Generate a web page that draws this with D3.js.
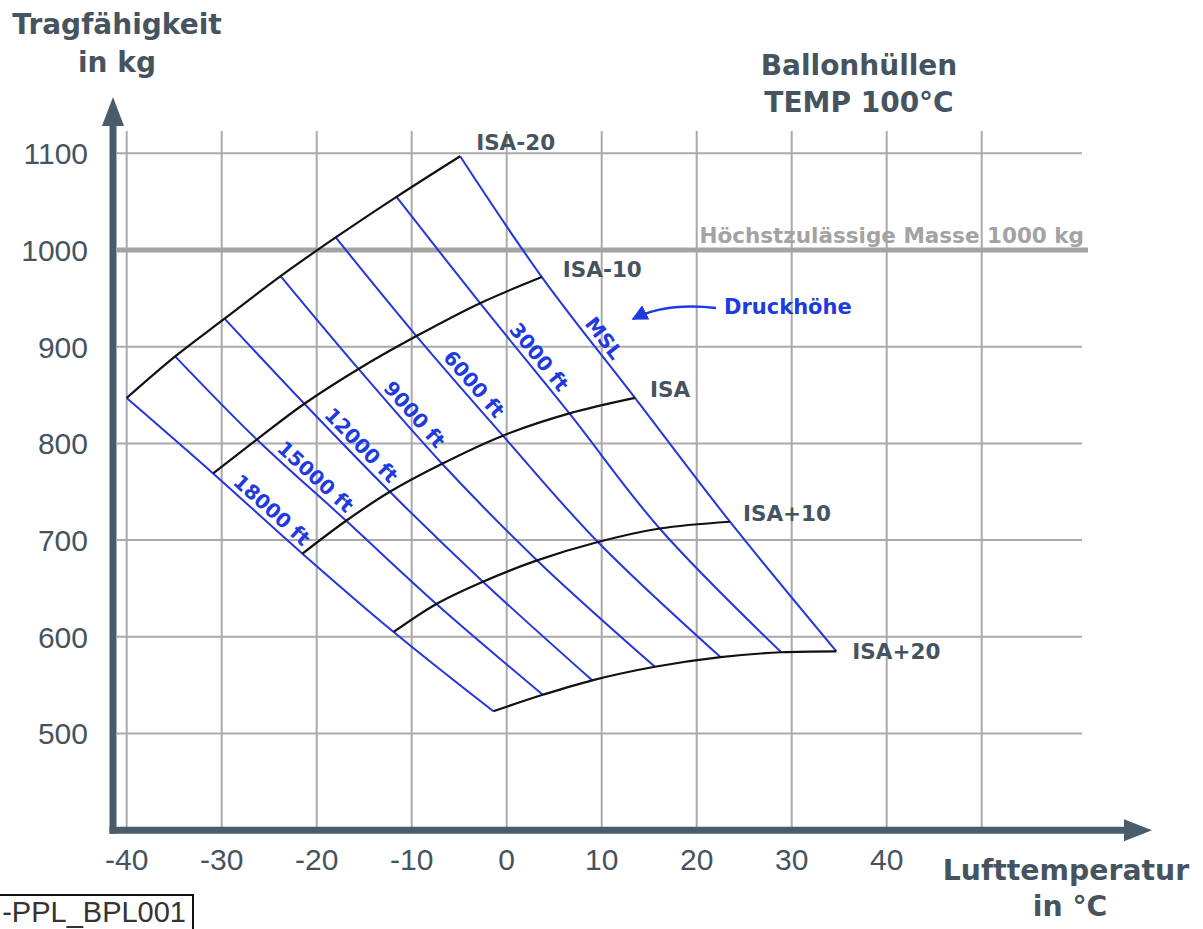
<!DOCTYPE html>
<html>
<head>
<meta charset="utf-8">
<script src="https://cdn.jsdelivr.net/npm/d3@7"></script>
<style>
  html, body { margin: 0; padding: 0; background: #ffffff; overflow: hidden; }
  svg { display: block; }
</style>
</head>
<body>
<svg id="chart" width="1203" height="929"></svg>
<script>
// ---------------- DATA ----------------
const xTicks = [-40, -30, -20, -10, 0, 10, 20, 30, 40];
const xGrid = [-40, -30, -20, -10, 0, 10, 20, 30, 40, 50];
const yTicks = [500, 600, 700, 800, 900, 1000, 1100];
const maxMass = 1000;

const deviations = ["ISA-20", "ISA-10", "ISA", "ISA+10", "ISA+20"];
const altitudes = ["MSL", "3000 ft", "6000 ft", "9000 ft", "12000 ft", "15000 ft", "18000 ft"];

// air temperature (°C) and lift (kg) for each deviation, listed by altitude (MSL ... 18000 ft)
const tempISAm20 = [-4.9, -11.6, -18.0, -23.8, -29.7, -34.9, -40.0];
const massISAm20 = [1097, 1055, 1013, 973, 929, 890, 847];
const tempISAm10 = [3.7, -2.8, -9.5, -15.6, -21.3, -26.3, -30.9];
const massISAm10 = [972, 945, 911, 877, 841, 804, 769];
const tempISA    = [13.5, 6.6, -0.4, -6.8, -12.3, -16.9, -21.5];
const massISA    = [847, 831, 808, 779, 750, 720, 686];
const tempISAp10 = [23.5, 16.1, 9.6, 3.2, -2.5, -7.4, -11.9];
const massISAp10 = [719, 712, 698, 679, 657, 634, 605];
const tempISAp20 = [34.7, 28.9, 22.5, 15.6, 9.0, 3.8, -1.4];
const massISAp20 = [585, 584, 579, 569, 555, 540, 523];

const temps = [tempISAm20, tempISAm10, tempISA, tempISAp10, tempISAp20];
const masses = [massISAm20, massISAm10, massISA, massISAp10, massISAp20];

// ---------------- LAYOUT ----------------
const svg = d3.select("#chart");
const x = d3.scaleLinear().domain([-40, 50]).range([126.7, 981.7]);
const y = d3.scaleLinear().domain([400, 1100]).range([830.2, 153.3]);

const axisColor = "#4a5c6a";
const textColor = "#46545f";
const gridColor = "#aaaaaa";
const blue = "#2536de";
const labelBlue = "#1d3be0";
const boldFont = "'DejaVu Sans', Verdana, sans-serif";
const tickFont = "'Liberation Sans', Arial, sans-serif";

// grid
const g = svg.append("g");
g.selectAll("line.vg").data(xGrid).join("line")
  .attr("x1", d => x(d)).attr("x2", d => x(d))
  .attr("y1", 131).attr("y2", y(400))
  .attr("stroke", gridColor).attr("stroke-width", 2);
g.selectAll("line.hg").data(yTicks.filter(d => d !== maxMass)).join("line")
  .attr("x1", 117).attr("x2", 1082)
  .attr("y1", d => y(d)).attr("y2", d => y(d))
  .attr("stroke", gridColor).attr("stroke-width", 2);
// max mass line
g.append("line")
  .attr("x1", 117).attr("x2", 1088)
  .attr("y1", y(maxMass)).attr("y2", y(maxMass))
  .attr("stroke", "#a4a4a4").attr("stroke-width", 5);
g.append("text")
  .attr("x", 1084).attr("y", y(maxMass) - 7)
  .attr("text-anchor", "end")
  .attr("font-family", boldFont).attr("font-weight", "bold").attr("font-size", 21.5)
  .attr("fill", "#a3a3a3")
  .text("Höchstzulässige Masse 1000 kg");

// axes
svg.append("line").attr("x1", 113).attr("x2", 113).attr("y1", y(400) + 3.5).attr("y2", 120)
  .attr("stroke", axisColor).attr("stroke-width", 7);
svg.append("path").attr("d", "M113,97 L124,126 L102,126 Z").attr("fill", axisColor);
svg.append("line").attr("x1", 109.5).attr("x2", 1130).attr("y1", y(400)).attr("y2", y(400))
  .attr("stroke", axisColor).attr("stroke-width", 7);
svg.append("path").attr("d", `M1152,${y(400)} L1124,${y(400) - 11} L1124,${y(400) + 11} Z`).attr("fill", axisColor);

// tick labels
svg.selectAll("text.xt").data(xTicks).join("text")
  .attr("x", d => x(d)).attr("y", 870)
  .attr("text-anchor", "middle")
  .attr("font-family", tickFont).attr("font-size", 30)
  .attr("fill", textColor)
  .text(d => d);
svg.selectAll("text.yt").data(yTicks).join("text")
  .attr("x", 88).attr("y", d => y(d)).attr("dy", "0.36em")
  .attr("text-anchor", "end")
  .attr("font-family", tickFont).attr("font-size", 30)
  .attr("fill", textColor)
  .text(d => d);

// axis titles
function boldText(txt, xx, yy, size, anchor, color) {
  return svg.append("text").attr("x", xx).attr("y", yy)
    .attr("text-anchor", anchor || "middle")
    .attr("font-family", boldFont).attr("font-weight", "bold")
    .attr("font-size", size).attr("fill", color || textColor).text(txt);
}
boldText("Tragfähigkeit", 117, 34, 28);
boldText("in kg", 117, 72, 28);
boldText("Ballonhüllen", 859, 75, 28);
boldText("TEMP 100°C", 859, 112, 28);
boldText("Lufttemperatur", 1066, 880, 28.3);
boldText("in °C", 1070, 916, 28.3);

// reference box bottom-left
svg.append("rect").attr("x", -5).attr("y", 895).attr("width", 198).attr("height", 50)
  .attr("fill", "none").attr("stroke", "#111").attr("stroke-width", 2);
svg.append("text").attr("x", 186).attr("y", 922).attr("text-anchor", "end")
  .attr("font-family", tickFont).attr("font-size", 29).attr("fill", "#333")
  .text("-PPL_BPL001");

// pressure altitude lines (blue): across deviations for each altitude
const lineGen = d3.line().x(d => x(d[0])).y(d => y(d[1])).curve(d3.curveCatmullRom.alpha(0.5));
const altLines = altitudes.map((a, ai) => deviations.map((dv, di) => [temps[di][ai], masses[di][ai]]));
svg.append("g").selectAll("path").data(altLines).join("path")
  .attr("d", lineGen).attr("fill", "none").attr("stroke", blue).attr("stroke-width", 2);

// deviation curves (black)
const devLines = deviations.map((dv, di) => altitudes.map((a, ai) => [temps[di][ai], masses[di][ai]]));
svg.append("g").selectAll("path").data(devLines).join("path")
  .attr("d", lineGen).attr("fill", "none").attr("stroke", "#111").attr("stroke-width", 2.2);

// deviation labels (offsets relative to MSL end point)
const devLabelOffset = [[16, -6], [21, 0], [15, -1], [13, -1], [16, 8]];
deviations.forEach((dv, di) => {
  boldText(dv, x(temps[di][0]) + devLabelOffset[di][0], y(masses[di][0]) + devLabelOffset[di][1], 21.5, "start");
});

// altitude labels along blue lines, between ISA-10 and ISA
altitudes.forEach((a, ai) => {
  const p1 = [x(temps[1][ai]), y(masses[1][ai])];
  const p2 = [x(temps[2][ai]), y(masses[2][ai])];
  const dx = p2[0] - p1[0], dy = p2[1] - p1[1];
  const len = Math.hypot(dx, dy);
  const ux = dx / len, uy = dy / len;
  const ang = Math.atan2(dy, dx) * 180 / Math.PI;
  const along = ai === 0 ? 10 : 8;
  const cx = (p1[0] + p2[0]) / 2 + ux * along;
  const cy = (p1[1] + p2[1]) / 2 + uy * along;
  svg.append("text")
    .attr("transform", `translate(${cx},${cy}) rotate(${ang})`)
    .attr("x", 0).attr("y", -5)
    .attr("text-anchor", "middle")
    .attr("font-family", boldFont).attr("font-weight", "bold").attr("font-size", 20)
    .attr("fill", labelBlue)
    .text(a);
});

// Druckhöhe annotation
svg.append("defs").append("marker")
  .attr("id", "ah").attr("viewBox", "0 0 10 10").attr("refX", 9).attr("refY", 5)
  .attr("markerWidth", 16).attr("markerHeight", 16).attr("orient", "auto-start-reverse")
  .attr("markerUnits", "userSpaceOnUse")
  .append("path").attr("d", "M0,0 L10,5 L0,10 Z").attr("fill", labelBlue);
svg.append("path")
  .attr("d", "M716,308 C690,305 660,305 633,319")
  .attr("fill", "none").attr("stroke", labelBlue).attr("stroke-width", 2.5)
  .attr("marker-end", "url(#ah)");
boldText("Druckhöhe", 724, 314, 21, "start", labelBlue);
</script>
</body>
</html>
